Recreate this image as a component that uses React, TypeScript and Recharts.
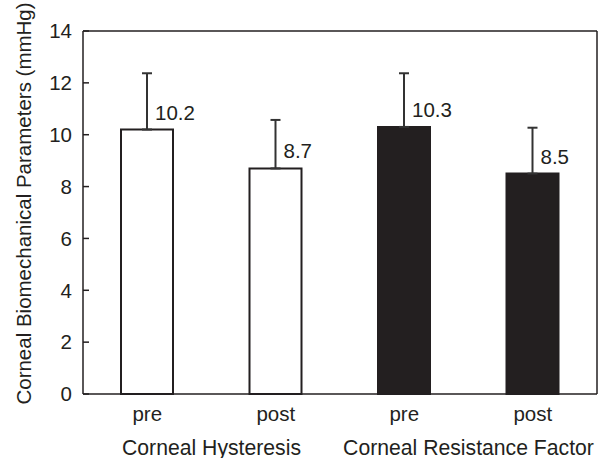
import { BarChart, Bar, XAxis, YAxis, ErrorBar, Cell, LabelList, ReferenceLine } from 'recharts'

const phases = ['pre', 'post', 'pre', 'post']
const groups = ['Corneal Hysteresis', 'Corneal Resistance Factor']
const means = [10.2, 8.7, 10.3, 8.5]
const sdUpper = [2.17, 1.87, 2.07, 1.77]
const yTicks = [0, 2, 4, 6, 8, 10, 12, 14]

const data = phases.map((phase, i) => ({
  name: `${phase}-${i}`,
  phase,
  value: means[i],
  err: [0, sdUpper[i]],
}))

const INK = '#231f20'
const groupFills = ['#ffffff', INK]
const FONT = 'Liberation Sans, Arial, sans-serif'
const FS = 20.5

function XTick(props: any) {
  const { x, y, payload } = props
  const i = payload.index
  const band = 128.5
  return (
    <g fontFamily={FONT}>
      <text x={x} y={y + 27} textAnchor="middle" fontSize={FS} fill={INK}>{phases[i]}</text>
      {i % 2 === 0 && (
        <text x={x + band / 2} y={y + 61} textAnchor="middle" fontSize={21.2} fill={INK}>
          {groups[i / 2]}
        </text>
      )}
    </g>
  )
}

function ValueLabel(props: any) {
  const { x, y, width, value } = props
  return (
    <text x={x + width / 2 + 8} y={y - 10} fontFamily={FONT} fontSize={FS} fill={INK}>
      {value.toFixed(1)}
    </text>
  )
}

function YLabel(props: any) {
  const { viewBox } = props
  const cy = viewBox.y + viewBox.height / 2 - 9
  return (
    <text
      x={31}
      y={cy}
      transform={`rotate(-90, 31, ${cy})`}
      textAnchor="middle"
      fontFamily={FONT}
      fontSize={FS}
      fill={INK}
    >
      Corneal Biomechanical Parameters (mmHg)
    </text>
  )
}

export default function App() {
  return (
    <div style={{ position: 'absolute', left: 0, top: 0, background: '#fff' }}>
      <BarChart
        width={608}
        height={458}
        data={data}
        margin={{ top: 31, right: 10, bottom: 63, left: 0 }}
        barCategoryGap={0}
      >
        <XAxis
          dataKey="name"
          height={1}
          tickLine={false}
          tickSize={0}
          tickMargin={0}
          tick={<XTick />}
          axisLine={{ stroke: INK, strokeWidth: 1.5 }}
          interval={0}
        />
        <YAxis
          domain={[0, 14]}
          ticks={yTicks}
          width={83}
          tickSize={-6}
          tickMargin={17}
          tickLine={{ stroke: INK, strokeWidth: 1.5 }}
          axisLine={{ stroke: INK, strokeWidth: 1.5 }}
          tick={{ fontFamily: FONT, fontSize: FS, fill: INK }}
          label={<YLabel />}
        />
        <YAxis
          yAxisId="right"
          orientation="right"
          domain={[0, 14]}
          width={1}
          tick={false}
          tickLine={false}
          axisLine={{ stroke: INK, strokeWidth: 1.5 }}
        />
        <ReferenceLine y={14} stroke={INK} strokeWidth={1.5} />
        <Bar dataKey="value" barSize={52} isAnimationActive={false} stroke={INK} strokeWidth={2}>
          {data.map((d, i) => (
            <Cell key={d.name} fill={groupFills[Math.floor(i / 2)]} />
          ))}
          <ErrorBar dataKey="err" direction="y" width={5} stroke="#333" strokeWidth={2} />
          <LabelList dataKey="value" content={<ValueLabel />} />
        </Bar>
      </BarChart>
    </div>
  )
}
